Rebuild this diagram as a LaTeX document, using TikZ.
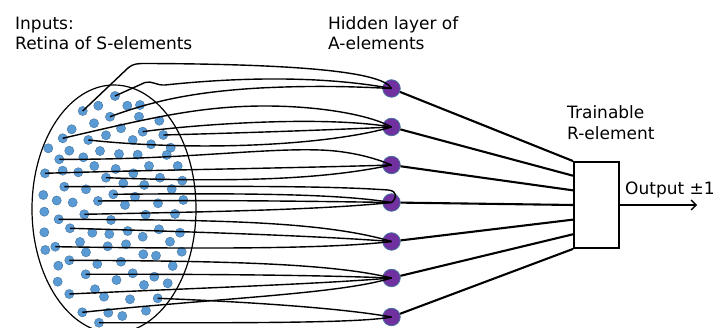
\documentclass[tikz,border=0pt]{standalone}
\usepackage{fontspec}
\setmainfont{DejaVu Sans}
\usetikzlibrary{arrows.meta,calc,shapes.geometric}
\definecolor{dotblue}{HTML}{5B9BD5}
\definecolor{dotedge}{HTML}{41719C}
\definecolor{apurple}{HTML}{7030A0}
\tikzset{
  sdot/.style={circle,fill=dotblue,draw=dotedge,line width=0.4pt,minimum size=9.2pt,inner sep=0pt},
  anode/.style={circle,fill=apurple,draw=dotedge,line width=0.8pt,minimum size=17.5pt,inner sep=0pt},
  wire/.style={line width=1.4pt,black},
  aline/.style={line width=2.1pt,black},
  lbl/.style={anchor=base west,inner sep=0pt,font=\fontsize{17}{20}\selectfont}
}
\begin{document}
\begin{tikzpicture}[x=1pt,y=-1pt]
\useasboundingbox (0,0) rectangle (716,328);
\node[ellipse,draw,line width=1.2pt,minimum width=164pt,minimum height=248pt,inner sep=0pt] (retina) at (114,209) {};
\foreach \i/\x/\y in {
1/115/96, 2/82.7/111, 3/98.3/105.7, 4/110/116.7, 5/94/123.3, 6/71.7/129.3, 7/62.7/138.3, 8/88.3/140,
9/106/135.3, 10/48.3/148.3, 11/69.3/150.7, 12/100/151, 13/59.3/159.3, 14/83.3/157.3, 15/94.3/166,
16/45/173.3, 17/62.7/170.7, 18/78.3/172.3, 19/106/177.7, 20/64.3/186.7, 21/86/189.3, 22/113.3/194.3,
23/43.3/195, 24/56.7/200.5, 25/72.7/202.5, 26/98/201, 27/127.3/105.7, 28/140/105, 29/139/116.7,
30/159.3/120.7, 31/121/128.3, 32/142.7/131.7, 33/163.3/135, 34/132.7/140, 35/151/144.3, 36/170.7/147.7,
37/166.7/155, 38/119/154, 39/137.7/154.7, 40/149/166, 41/177.7/166, 42/115.7/169, 43/133.3/173.3,
44/160/177.7, 45/182.3/180.7, 46/123.3/183.3, 47/144.3/185, 48/171.7/189, 49/135/196.7, 50/158/203.3,
51/183.3/200, 52/125/205, 53/44.3/211.7, 54/84.3/214.3, 55/58.7/219.3, 56/111/220, 57/70/228.3,
58/92.3/232.7, 59/109.3/234, 60/44.3/232.3, 61/45.3/250, 62/55.3/246.7, 63/80/242, 64/86/252.3,
65/107.7/246.3, 66/58.3/265.7, 67/69.3/260.3, 68/97.3/264, 69/85.7/274.3, 70/116.5/280, 71/57.7/281.7,
72/69.3/294, 73/95/289.3, 74/104/296.7, 75/82.3/312.3, 76/108.3/312.7, 77/99/322.7, 78/145.7/214.7,
79/175/214, 80/127.7/231, 81/159/229.3, 82/180/232.7, 83/142.7/236.7, 84/170/241.7, 85/126/244.3,
86/181.7/251.7, 87/143.3/254.3, 88/156/255.7, 89/121/261.7, 90/172.7/266, 91/132.7/273.3, 92/154.3/276.7,
93/144/285, 94/167.7/283.3, 95/130/299.3, 96/157.7/298.3, 97/146/310.7, 98/122.3/316}
  \node[sdot] (d\i) at (\x,\y) {};
\node[anode] (h1) at (391.5,88.5) {};
\node[anode] (h2) at (391.5,127) {};
\node[anode] (h3) at (391.5,165) {};
\node[anode] (h4) at (391.5,202.5) {};
\node[anode] (h5) at (391.5,241.5) {};
\node[anode] (h6) at (391.5,278) {};
\node[anode] (h7) at (391.5,317) {};
% curves S -> A
\draw[wire] (d2.center) -- (128,68) .. controls (133,63.5) and (138,63.5) .. (146,63.5) .. controls (280,64) and (382,70) .. (h1.center);
\draw[wire] (d1.center) -- (145,82.5) .. controls (152,80.5) and (156,85.5) .. (165,85) .. controls (250,76) and (330,77) .. (h1.center);
\draw[wire] (d4.center) .. controls (150,102) and (190,92) .. (260,88) .. controls (320,85) and (360,87) .. (h1.center);
\draw[wire] (d7.center) .. controls (150,118) and (200,106) .. (265,106) .. controls (320,106) and (370,115) .. (h2.center);
\draw[wire] (d32.center) .. controls (190,125) and (320,115) .. (h2.center);
\draw[wire] (d33.center) .. controls (240,133) and (330,130) .. (h2.center);
\draw[wire] (d8.center) .. controls (200,152) and (330,145) .. (h2.center);
\draw[wire] (d13.center) .. controls (180,160) and (260,148) .. (320,150) .. controls (350,151) and (375,158) .. (h3.center);
\draw[wire] (d16.center) .. controls (150,170) and (300,168) .. (h3.center);
\draw[wire] (d19.center) .. controls (250,183) and (330,178) .. (h3.center);
\draw[wire] (d20.center) .. controls (250,186) and (330,186) .. (388,190) .. controls (398,191) and (397,198) .. (h4.center);
\draw[wire] (d22.center) .. controls (250,193) and (340,194) .. (h4.center);
\draw[wire] (d26.center) .. controls (200,200) and (300,201) .. (h4.center);
\draw[wire] (d54.center) .. controls (200,212) and (320,210) .. (h4.center);
\draw[wire] (d55.center) .. controls (200,220) and (320,220) .. (h5.center);
\draw[wire] (d57.center) .. controls (200,232) and (320,236) .. (h5.center);
\draw[wire] (d62.center) .. controls (200,249) and (330,249) .. (h5.center);
\draw[wire] (d67.center) .. controls (220,261) and (330,263) .. (h6.center);
\draw[wire] (d69.center) .. controls (250,274) and (340,276) .. (h6.center);
\draw[wire] (d72.center) .. controls (200,288) and (320,284) .. (h6.center);
\draw[wire] (d75.center) .. controls (220,298) and (340,294) .. (h6.center);
\draw[wire] (d96.center) .. controls (250,302) and (340,308) .. (h7.center);
\draw[wire] (d77.center) .. controls (250,323) and (360,323) .. (h7.center);
% R element
\node[draw,line width=1.8pt,minimum width=45pt,minimum height=86pt,inner sep=0pt] (R) at (596.5,205) {};
\foreach \k in {1,...,7}
  \coordinate (r\k) at ($(R.north west)!{(\k-1)/6}!(R.south west)$);
\foreach \k in {1,...,7}
  \draw[aline] (h\k) -- (r\k);
\coordinate (out) at (697,205);
\draw[line width=1.4pt,-{Straight Barb[length=5pt,width=10pt]}] (R.east) -- (out);
% labels
\node[lbl] (t1) at (15,30) {Inputs:};
\node[lbl] (t2) at (15,50) {Retina of S-elements};
\node[lbl] (t3) at (328,30) {Hidden layer of};
\node[lbl] (t4) at (328,50) {A-elements};
\node[lbl] (t5) at (567,119) {Trainable};
\node[lbl] (t6) at (567,139.5) {R-element};
\node[lbl] (t7) at (625,195) {Output ±1};
\end{tikzpicture}
\end{document}
